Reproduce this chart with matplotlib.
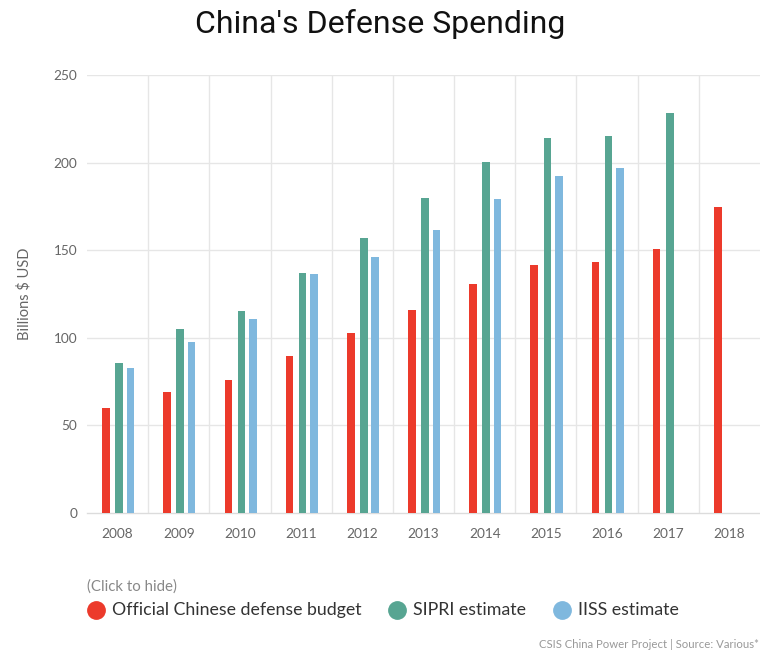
import matplotlib
matplotlib.use("Agg")
import matplotlib.pyplot as plt
import numpy as np
from matplotlib.lines import Line2D

years = ["2008", "2009", "2010", "2011", "2012", "2013", "2014", "2015", "2016", "2017", "2018"]
official = [59.7, 69.3, 76.1, 89.5, 103.0, 115.6, 130.5, 141.5, 143.0, 150.5, 174.5]
sipri = [85.7, 105.3, 115.5, 137.0, 157.2, 179.6, 200.5, 214.0, 215.4, 228.2, np.nan]
iiss = [82.6, 97.7, 110.8, 136.2, 146.1, 161.8, 179.5, 192.2, 196.7, np.nan, np.nan]
series_names = ["Official Chinese defense budget", "SIPRI estimate", "IISS estimate"]
colors = ["#EC3A2B", "#57A592", "#7FB8DE"]
yticks = [0, 50, 100, 150, 200, 250]

W, H = 760, 650
fig = plt.figure(figsize=(W / 100, H / 100), dpi=100)
fig.patch.set_facecolor("white")
ax = fig.add_axes([87 / W, 1 - 513 / H, (760 - 87) / W, (513 - 75) / H])

x = np.arange(len(years))
offsets = [-0.19, 0.025, 0.21]
bw = 0.125
for vals, off, c in zip([official, sipri, iiss], offsets, colors):
    ax.bar(x + off, vals, width=bw, color=c, zorder=3, linewidth=0)

ax.set_xlim(-0.5, len(years) - 0.5)
ax.set_ylim(0, 250)
ax.set_yticks(yticks)
ax.set_yticklabels([str(t) for t in yticks])
ax.set_xticks(x)
ax.set_xticklabels(years)
# vertical grid at category boundaries
for b in np.arange(0.5, len(years) - 0.5, 1.0):
    ax.axvline(b, color="#e6e6e6", lw=1, zorder=1)
for t in yticks[1:]:
    ax.axhline(t, color="#e6e6e6", lw=1, zorder=1)
for s in ["top", "right", "left"]:
    ax.spines[s].set_visible(False)
ax.spines["bottom"].set_color("#dcdcdc")
ax.spines["bottom"].set_linewidth(1)
ax.tick_params(axis="both", length=0, colors="#666666", labelsize=9.8)
ax.tick_params(axis="x", pad=11)
ax.tick_params(axis="y", pad=7)
for lab in ax.get_xticklabels() + ax.get_yticklabels():
    lab.set_family("Lato")
ax.set_ylabel("Billions $ USD", family="Lato", fontsize=10.5, color="#666666")
ax.yaxis.set_label_coords(-0.082, 0.5)

fig.text(0.5, 1 - 24 / H, "China's Defense Spending", ha="center", va="center",
         family="Roboto", fontsize=23, color="#111111")

fig.text(87 / W, 1 - 587 / H, "(Click to hide)", ha="left", va="center",
         family="Lato", fontsize=10.8, color="#888888")
leg_x = [96, 397, 562]
for lx, name, c in zip(leg_x, series_names, colors):
    fig.add_artist(Line2D([lx / W], [1 - 610 / H], marker="o", markersize=12.5,
                          color=c, transform=fig.transFigure, linestyle="none"))
    fig.text((lx + 16) / W, 1 - 610 / H, name, ha="left", va="center",
             family="Lato", fontsize=12.8, color="#333333")

fig.text(759 / W, 1 - 644 / H, "CSIS China Power Project | Source: Various*", ha="right",
         va="center", family="Lato", fontsize=8.2, color="#999999")

fig.savefig("out.png", dpi=100, facecolor="white")
